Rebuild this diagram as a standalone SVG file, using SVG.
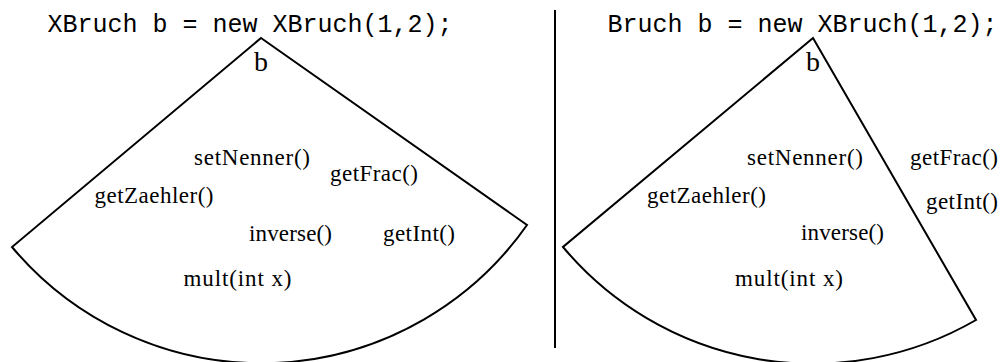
<svg xmlns="http://www.w3.org/2000/svg" width="1004" height="362" viewBox="0 0 1004 362">
<style>
.sector{fill:none;stroke:#000;stroke-width:2;stroke-linejoin:miter}
.title{font-family:"Liberation Mono",monospace;font-size:25px;fill:#000}
.lbl{font-family:"Liberation Serif",serif;font-size:23px;fill:#000}
.var{font-family:"Liberation Serif",serif;font-size:28px;fill:#000;text-anchor:middle}
</style>
<rect width="1004" height="362" fill="#fff"/>
<g id="left">
<text class="title" x="47.5" y="32" textLength="405" lengthAdjust="spacing">XBruch b = new XBruch(1,2);</text>
<g id="left-object">
<path class="sector" d="M 261 38 L 527 225 A 325 325 0 0 1 12 247 Z"/>
<text class="var" x="261" y="70.5">b</text>
</g>
<g id="left-methods">
<text class="lbl" x="194" y="165" textLength="116" lengthAdjust="spacing">setNenner()</text>
<text class="lbl" x="330" y="181" textLength="88" lengthAdjust="spacing">getFrac()</text>
<text class="lbl" x="94.5" y="203" textLength="119" lengthAdjust="spacing">getZaehler()</text>
<text class="lbl" x="249" y="241" textLength="83" lengthAdjust="spacing">inverse()</text>
<text class="lbl" x="383" y="241" textLength="72" lengthAdjust="spacing">getInt()</text>
<text class="lbl" x="183.5" y="286" textLength="108" lengthAdjust="spacing">mult(int x)</text>
</g>
</g>
<g id="divider">
<line x1="555" y1="10" x2="555" y2="348" stroke="#000" stroke-width="2"/>
</g>
<g id="right">
<text class="title" x="607.5" y="32" textLength="390" lengthAdjust="spacing">Bruch b = new XBruch(1,2);</text>
<g id="right-object">
<path class="sector" d="M 813 38 L 976 320 A 326 326 0 0 1 563 247 Z"/>
<text class="var" x="813" y="70.5">b</text>
</g>
<g id="right-methods">
<text class="lbl" x="747" y="165" textLength="116" lengthAdjust="spacing">setNenner()</text>
<text class="lbl" x="910" y="165" textLength="88" lengthAdjust="spacing">getFrac()</text>
<text class="lbl" x="647" y="203" textLength="119" lengthAdjust="spacing">getZaehler()</text>
<text class="lbl" x="926" y="209" textLength="72" lengthAdjust="spacing">getInt()</text>
<text class="lbl" x="801" y="240" textLength="83" lengthAdjust="spacing">inverse()</text>
<text class="lbl" x="735" y="286" textLength="108" lengthAdjust="spacing">mult(int x)</text>
</g>
</g>
</svg>
